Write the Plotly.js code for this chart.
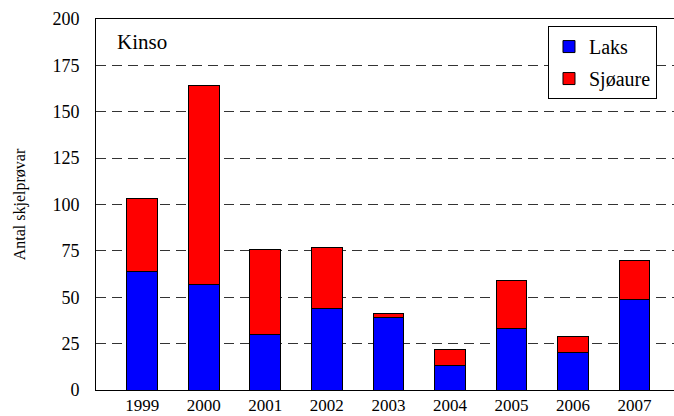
<!DOCTYPE html>
<html><head><meta charset="utf-8">
<script src="https://cdn.plot.ly/plotly-3.0.1.min.js"></script>
<style>html,body{margin:0;padding:0;background:#fff}#c{width:674px;height:416px}</style>
</head><body><div id="c"></div>
<script>
const years = ['1999','2000','2001','2002','2003','2004','2005','2006','2007'];
const laks = [64, 57, 30, 44, 39, 13, 33, 20, 49];
const totals = [103, 164, 76, 77, 41, 22, 59, 29, 70];
const sjoaure = totals.map((t,i)=>t-laks[i]);
const yTicks = [0,25,50,75,100,125,150,175,200];

const fam = 'Liberation Serif, Times New Roman, serif';
const f = s => ({family:fam, size:s, color:'#000'});
const traces = [
  {type:'bar', name:'Laks', x:years, y:laks, width:0.5, legendgroup:'a',
   marker:{color:'#0000ff', line:{color:'#000', width:1}}},
  {type:'bar', name:'Sjøaure', x:years, y:sjoaure, width:0.5, legendgroup:'b',
   marker:{color:'#ff0000', line:{color:'#000', width:1}}}
];
const layout = {
  width:674, height:416,
  margin:{l:96, r:0, t:19, b:26},
  barmode:'stack',
  paper_bgcolor:'#fff', plot_bgcolor:'#fff',
  font:f(17),
  showlegend:true,
  legend:{x:0.782, y:0.981, xanchor:'left', yanchor:'top', bgcolor:'#fff',
    bordercolor:'#000', borderwidth:1, font:f(20),
    traceorder:'grouped', tracegroupgap:3, itemwidth:30},
  xaxis:{type:'category', range:[-0.75, 8.64], showline:true, linecolor:'#000', linewidth:1,
    mirror:true, ticks:'', showgrid:false, tickfont:f(17), fixedrange:true},
  yaxis:{range:[0,200], tickvals:yTicks, ticktext:yTicks.map(String), showline:true, linecolor:'#000', linewidth:1,
    ticks:'outside', ticklen:12, tickcolor:'rgba(0,0,0,0)', showgrid:true, gridcolor:'#333', griddash:'10px,6px', gridwidth:1,
    zeroline:false, tickfont:f(18),
    title:{text:'Antal skjelprøvar', font:f(16), standoff:22}},
  annotations:[{xref:'paper', yref:'paper', x:0.033, y:0.938, xanchor:'left', yanchor:'middle',
    text:'Kinso', showarrow:false, font:f(21)}]
};
Plotly.newPlot('c', traces, layout, {displayModeBar:false, staticPlot:true});
</script></body></html>
